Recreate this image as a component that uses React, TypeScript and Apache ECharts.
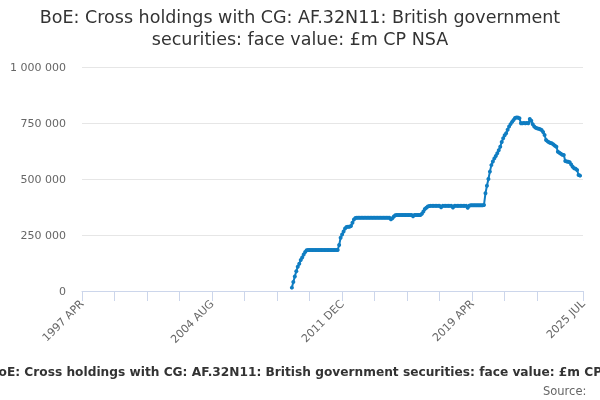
import { useEffect, useRef } from 'react';
import * as echarts from 'echarts';

const TITLE = 'BoE: Cross holdings with CG: AF.32N11: British government\nsecurities: face value: £m CP NSA';
const FOOTER = 'BoE: Cross holdings with CG: AF.32N11: British government securities: face value: £m CP NSA';
const MONTHS = ['JAN', 'FEB', 'MAR', 'APR', 'MAY', 'JUN', 'JUL', 'AUG', 'SEP', 'OCT', 'NOV', 'DEC'];

// monthly categories, 1997 APR .. 2025 JUL
const categories: string[] = [];
for (let y = 1997; y <= 2025; y++) {
  for (let m = 0; m < 12; m++) {
    if (y === 1997 && m < 3) continue;
    if (y === 2025 && m > 6) continue;
    categories.push(`${y} ${MONTHS[m]}`);
  }
}

// no holdings before 2009 FEB (index 142)
const emptyMonths = 142;

// £m, from 2009 FEB onward
const holdings: number[] = [
  15000, 40000, 65000, 88000, 108000, 122000, 138000, 150000, 163000, 174000, 182000,
  183000, 183000, 183000, 183000, 183000, 183000, 183000, 183000, 183000, 183000, 183000,
  183000, 183000, 183000, 183000, 183000, 183000, 183000, 183000, 183000, 183000,
  205000, 238000, 252000, 266000, 279000, 286000, 287000, 287000, 290000, 305000, 319000, 326000,
  327000, 327000, 327000, 327000, 327000, 327000, 327000, 327000, 327000, 327000, 327000, 327000,
  327000, 327000, 327000, 327000, 327000, 327000, 327000, 327000, 327000, 327000, 327000, 320000,
  325000, 333000, 338000,
  339000, 339000, 339000, 339000, 339000, 339000, 339000, 339000, 339000, 339000, 339000, 334000,
  339000, 339000, 339000, 339000, 339000,
  345000, 355000, 366000, 372000, 377000, 379000, 380000,
  380000, 380000, 380000, 380000, 380000, 380000, 374000, 380000, 380000, 380000, 380000, 380000,
  380000, 380000, 373000, 380000, 380000, 380000, 380000, 380000, 380000, 380000, 380000, 380000,
  372000, 381000, 383000, 383000, 383000, 383000, 383000, 383000, 383000, 383000, 383000, 384000,
  436000, 470000, 500000, 533000, 562000, 578000, 592000, 603000, 615000, 628000, 644000, 665000,
  682000, 695000, 704000, 720000, 734000, 745000, 755000, 763000, 772000, 775000, 774000, 771000,
  749000, 749000, 750000, 749000, 750000, 749000, 768000, 760000, 744000, 734000, 729000, 726000,
  724000, 722000, 719000, 710000, 696000, 674000, 668000, 664000, 661000, 659000, 654000, 648000,
  644000, 622000, 617000, 613000, 608000, 607000, 580000, 578000, 577000, 575000, 565000, 555000,
  548000, 546000, 540000, 518000, 515000,
];

const yTicks = [0, 250000, 500000, 750000, 1000000];

const seriesData: (number | null)[] = [...new Array(emptyMonths).fill(null), ...holdings];

const spaced = (v: number) => String(v).replace(/\B(?=(\d{3})+(?!\d))/g, ' ');

export default function App() {
  const elRef = useRef<HTMLDivElement | null>(null);

  useEffect(() => {
    if (!elRef.current) return;
    const chart = echarts.init(elRef.current, undefined, { renderer: 'svg' });
    const last = categories.length - 1;
    chart.setOption({
      animation: false,
      textStyle: { fontFamily: 'DejaVu Sans' },
      title: {
        text: TITLE,
        left: 'center',
        top: 6,
        padding: 0,
        textStyle: { fontSize: 17.5, fontWeight: 'normal', color: '#333333', lineHeight: 22, fontFamily: 'DejaVu Sans' },
      },
      grid: { left: 82, right: 17, top: 67, bottom: 109 },
      xAxis: {
        type: 'category',
        data: categories,
        boundaryGap: false,
        axisLine: { lineStyle: { color: '#ccd6eb' } },
        axisTick: {
          length: 10,
          lineStyle: { color: '#ccd6eb' },
          interval: (i: number) => (i % 22 === 0 && i < 330) || i === last,
        },
        axisLabel: {
          interval: (i: number) => i % 88 === 0 || i === last,
          rotate: 45,
          margin: 11,
          color: '#666666',
          fontSize: 11,
        },
        splitLine: { show: false },
      },
      yAxis: {
        type: 'value',
        min: yTicks[0],
        max: yTicks[yTicks.length - 1],
        interval: yTicks[1] - yTicks[0],
        axisLine: { show: false },
        axisTick: { show: false },
        axisLabel: { color: '#666666', fontSize: 11, margin: 16, formatter: (v: number) => spaced(v) },
        splitLine: { lineStyle: { color: '#e6e6e6' } },
      },
      series: [
        {
          type: 'line',
          data: seriesData,
          color: '#0f7dc2',
          lineStyle: { width: 2 },
          symbol: 'circle',
          symbolSize: 4,
          showSymbol: true,
          showAllSymbol: true,
        },
      ],
      graphic: [
        {
          type: 'text',
          x: 312,
          y: 366,
          style: { text: FOOTER, fill: '#333333', font: 'bold 12.2px "DejaVu Sans"', textAlign: 'center' },
        },
        {
          type: 'text',
          x: 543,
          y: 385,
          style: { text: 'Source:', fill: '#666666', font: '11.5px "DejaVu Sans"', textAlign: 'left' },
        },
      ],
    });
    return () => chart.dispose();
  }, []);

  return <div ref={elRef} style={{ position: 'fixed', left: 0, top: 0, width: 600, height: 400 }} />;
}
